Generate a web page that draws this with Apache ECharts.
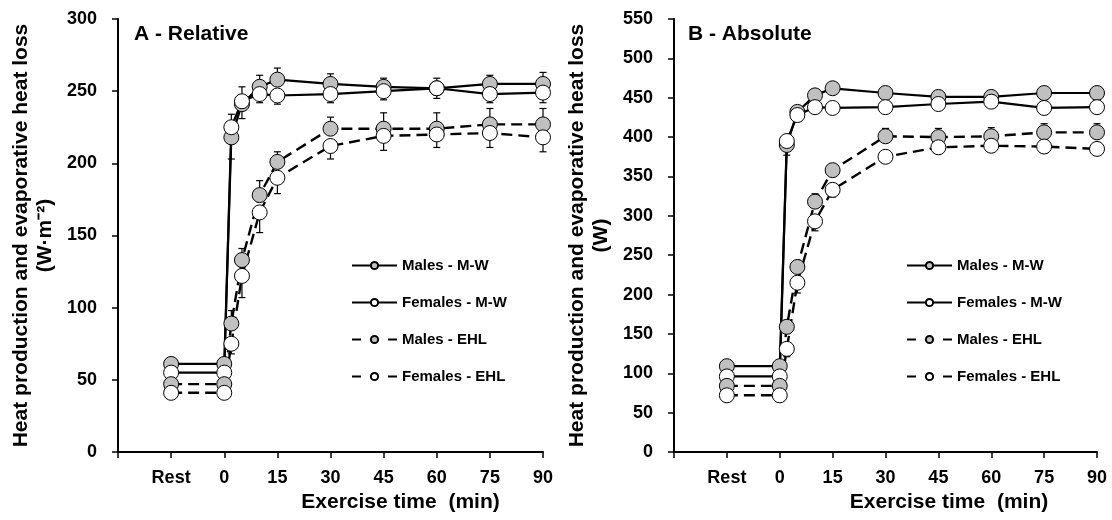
<!DOCTYPE html>
<html>
<head>
<meta charset="utf-8">
<script src="https://cdn.jsdelivr.net/npm/echarts@6/dist/echarts.min.js"></script>
<style>
html,body{margin:0;padding:0;background:#fff;}
#c{width:1112px;height:520px;}
</style>
</head>
<body>
<div id="c"></div>
<script>
// ---- data ----
var times = [-15, 0, 2, 5, 10, 15, 30, 45, 60, 75, 90];
var tickValues = [-30, -15, 0, 15, 30, 45, 60, 75, 90];
var tickLabels = ['', 'Rest', '0', '15', '30', '45', '60', '75', '90'];
var seriesNames = ['Males - M-W', 'Females - M-W', 'Males - EHL', 'Females - EHL'];

// Panel A - Relative (W·m-2)
var maleMW_A   = [61, 61, 218, 241, 253, 258, 255, 253, 252, 255, 255];
var femaleMW_A = [55, 55, 225, 243, 248, 247, 248, 250, 252, 248, 249];
var maleEHL_A  = [47, 47, 89, 133, 178, 201, 224, 224, 224, 227, 227];
var femaleEHL_A= [41, 41, 75, 122, 166, 190, 212, 219, 220, 221, 218];
var maleMW_A_err   = [3, 3, 16, 12, 8, 8, 7, 6, 7, 6, 8];
var femaleMW_A_err = [3, 3, 22, 12, 6, 6, 6, 6, 7, 6, 7];
var maleEHL_A_err  = [3, 3, 9, 8, 10, 7, 8, 11, 11, 11, 11];
var femaleEHL_A_err= [3, 3, 7, 15, 14, 11, 9, 10, 9, 10, 10];

// Panel B - Absolute (W)
var maleMW_B   = [109, 109, 390, 432, 453, 462, 456, 451, 451, 456, 456];
var femaleMW_B = [96, 96, 395, 428, 438, 437, 438, 442, 445, 437, 438];
var maleEHL_B  = [84, 84, 159, 235, 318, 358, 401, 400, 401, 406, 406];
var femaleEHL_B= [72, 72, 131, 215, 293, 333, 375, 387, 389, 388, 385];
var maleMW_B_err   = [2, 2, 10, 8, 6, 5, 5, 5, 5, 5, 5];
var femaleMW_B_err = [2, 2, 18, 8, 6, 5, 5, 5, 5, 5, 5];
var maleEHL_B_err  = [2, 2, 8, 8, 10, 8, 10, 11, 11, 11, 11];
var femaleEHL_B_err= [2, 2, 10, 13, 12, 9, 8, 8, 8, 8, 8];

// ---- styles ----
var FONT = '"Liberation Sans", Arial, sans-serif';
var GREY = '#c0c0c0';
var DASH = [11, 6];

function pairs(ys) { return times.map(function (t, i) { return [t, ys[i]]; }); }
function errData(ys, es, sign) { return times.map(function (t, i) { return [t, ys[i], sign * es[i]]; }); }

function lineSeries(name, ys, fill, dashed, gi) {
  return {
    type: 'line', name: name, xAxisIndex: gi, yAxisIndex: gi,
    data: pairs(ys), symbol: 'circle', symbolSize: 15,
    itemStyle: { color: fill, borderColor: '#000', borderWidth: 1 },
    lineStyle: { color: '#000', width: dashed ? 2.4 : 2.2, type: dashed ? DASH : 'solid' },
    z: 3, animation: false
  };
}
function errSeries(ys, es, sign, gi) {
  return {
    type: 'custom', xAxisIndex: gi, yAxisIndex: gi, z: 2, silent: true, animation: false,
    data: errData(ys, es, sign),
    renderItem: function (params, api) {
      var p0 = api.coord([api.value(0), api.value(1)]);
      var p1 = api.coord([api.value(0), api.value(1) + api.value(2)]);
      var st = { stroke: '#000', lineWidth: 1.2 };
      return { type: 'group', children: [
        { type: 'line', shape: { x1: p0[0], y1: p0[1], x2: p1[0], y2: p1[1] }, style: st },
        { type: 'line', shape: { x1: p1[0] - 3.5, y1: p1[1], x2: p1[0] + 3.5, y2: p1[1] }, style: st }
      ]};
    }
  };
}

function xAxis(gi, padLeft) {
  return {
    type: 'value', gridIndex: gi, min: -30, max: 90, interval: 15,
    name: 'Exercise time  (min)', nameLocation: 'middle', nameGap: 38,
    nameTextStyle: { fontFamily: FONT, fontWeight: 'bold', fontSize: 21, color: '#000', padding: [0, 0, 0, padLeft] },
    axisLine: { onZero: false, lineStyle: { color: '#000', width: 2 } },
    axisTick: { show: true, length: 6, lineStyle: { color: '#000', width: 1.5 } },
    splitLine: { show: false },
    axisLabel: {
      margin: 17, fontFamily: FONT, fontWeight: 'bold', fontSize: 18, color: '#000',
      formatter: function (v) { var i = tickValues.indexOf(v); return i >= 0 ? tickLabels[i] : ''; }
    }
  };
}
function yAxis(gi, max, name) {
  return {
    type: 'value', gridIndex: gi, min: 0, max: max, interval: 50,
    name: name, nameLocation: 'middle', nameGap: 61, nameRotate: 90,
    nameTextStyle: { fontFamily: FONT, fontWeight: 'bold', fontSize: 21, color: '#000', lineHeight: 24, align: 'center' },
    axisLine: { show: true, onZero: false, lineStyle: { color: '#000', width: 2 } },
    axisTick: { show: true, length: 6, lineStyle: { color: '#000', width: 1.5 } },
    splitLine: { show: false },
    axisLabel: { margin: 21, fontFamily: FONT, fontWeight: 'bold', fontSize: 18, color: '#000' }
  };
}
function legend(left) {
  return {
    orient: 'vertical', left: left, top: 258, padding: 0,
    itemWidth: 45, itemHeight: 9, itemGap: 22,
    textStyle: { fontFamily: FONT, fontWeight: 'bold', fontSize: 15, color: '#000', lineHeight: 15 },
    data: [
      { name: seriesNames[0] },
      { name: seriesNames[1] },
      { name: seriesNames[2], lineStyle: { type: [9, 27] } },
      { name: seriesNames[3], lineStyle: { type: [9, 27] } }
    ],
    selectedMode: false
  };
}

var chart = echarts.init(document.getElementById('c'), null, { renderer: 'canvas' });
var option = {
  backgroundColor: '#fff',
  animation: false,
  title: [
    { text: 'A - Relative', left: 134, top: 24, padding: 0, textStyle: { fontFamily: FONT, fontWeight: 'bold', fontSize: 21, color: '#000' } },
    { text: 'B - Absolute', left: 688, top: 24, padding: 0, textStyle: { fontFamily: FONT, fontWeight: 'bold', fontSize: 21, color: '#000' } }
  ],
  legend: [legend(351), legend(906)],
  grid: [
    { left: 118, top: 19, width: 425, height: 433 },
    { left: 674, top: 19, width: 423, height: 433 }
  ],
  xAxis: [xAxis(0, 140), xAxis(1, 127)],
  yAxis: [
    yAxis(0, 300, 'Heat production and evaporative heat loss\n(W·m⁻²)'),
    yAxis(1, 550, 'Heat production and evaporative heat loss\n(W)')
  ],
  series: [
    errSeries(maleMW_A, maleMW_A_err, 1, 0),
    errSeries(femaleMW_A, femaleMW_A_err, -1, 0),
    errSeries(maleEHL_A, maleEHL_A_err, 1, 0),
    errSeries(femaleEHL_A, femaleEHL_A_err, -1, 0),
    lineSeries(seriesNames[0], maleMW_A, GREY, false, 0),
    lineSeries(seriesNames[1], femaleMW_A, '#fff', false, 0),
    lineSeries(seriesNames[2], maleEHL_A, GREY, true, 0),
    lineSeries(seriesNames[3], femaleEHL_A, '#fff', true, 0),
    errSeries(maleMW_B, maleMW_B_err, 1, 1),
    errSeries(femaleMW_B, femaleMW_B_err, -1, 1),
    errSeries(maleEHL_B, maleEHL_B_err, 1, 1),
    errSeries(femaleEHL_B, femaleEHL_B_err, -1, 1),
    lineSeries(seriesNames[0], maleMW_B, GREY, false, 1),
    lineSeries(seriesNames[1], femaleMW_B, '#fff', false, 1),
    lineSeries(seriesNames[2], maleEHL_B, GREY, true, 1),
    lineSeries(seriesNames[3], femaleEHL_B, '#fff', true, 1)
  ]
};
chart.setOption(option);
</script>
</body>
</html>
